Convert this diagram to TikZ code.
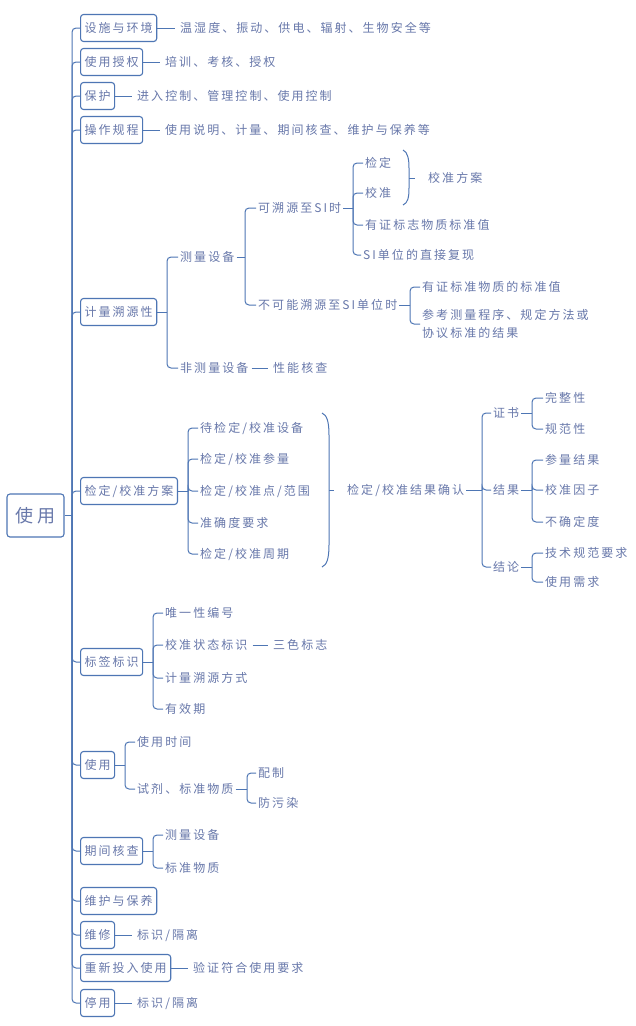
\documentclass[tikz,border=0pt]{standalone}
\usepackage{fontspec}
\setmainfont{Noto Sans CJK SC}[LetterSpace=17]
\definecolor{lc}{RGB}{78,118,180}
\definecolor{tc}{RGB}{104,120,170}
\begin{document}
\begin{tikzpicture}[x=1pt,y=-1pt,
  font=\fontsize{12}{18.5}\selectfont,
  conn/.style={draw=lc, line width=1pt},
  elb/.style={conn, rounded corners=4pt},
  box/.style={draw=lc, line width=1.1pt, rounded corners=3pt, text=tc, anchor=west,
    minimum height=27pt, inner xsep=4pt, inner ysep=0pt},
  lbl/.style={text=tc, anchor=west, inner xsep=2pt, inner ysep=1pt}]
\useasboundingbox[fill=white] (0,0) rectangle (635,1026);

% root
\node[box, anchor=center, minimum height=43pt, minimum width=57pt, inner xsep=0pt,
  font=\fontsize{18}{20}\selectfont] (root) at (35.5,515.5) {使用};
\coordinate (sp) at (72,515.5);
\draw[conn] (root.east) -- (sp);

% level 1
\node[box] (a1) at (80,28) {设施与环境};
\node[box] (a2) at (80,62) {使用授权};
\node[box] (a3) at (80,96) {保护};
\node[box] (a4) at (80,130) {操作规程};
\node[box] (a5) at (80,312) {计量溯源性};
\node[box] (a6) at (80,491) {检定/校准方案};
\node[box] (a7) at (80,662) {标签标识};
\node[box] (a8) at (80,765) {使用};
\node[box] (a9) at (80,851) {期间核查};
\node[box] (a10) at (80,901) {维护与保养};
\node[box] (a11) at (80,935) {维修};
\node[box] (a12) at (80,968) {重新投入使用};
\node[box] (a13) at (80,1003) {停用};
\foreach \i in {1,...,13} \draw[elb] (sp) |- (a\i.west);

% simple leaves
\node[lbl] (t1) at (178,28) {温湿度、振动、供电、辐射、生物安全等};
\node[lbl] (t2) at (163,62) {培训、考核、授权};
\node[lbl] (t3) at (135,96) {进入控制、管理控制、使用控制};
\node[lbl] (t4) at (163,130) {使用说明、计量、期间核查、维护与保养等};
\node[lbl] (t11) at (135,935) {标识/隔离};
\node[lbl] (t12) at (191,968) {验证符合使用要求};
\node[lbl] (t13) at (135,1003) {标识/隔离};
\foreach \i in {1,2,3,4,11,12,13} \draw[conn, shorten >=3pt] (a\i.east) -- (t\i.west);

% section 5
\node[lbl] (m1) at (178,257) {测量设备};
\node[lbl] (m2) at (178,368) {非测量设备};
\node[lbl] (m2b) at (271,368) {性能核查};
\draw[conn, shorten <=1pt, shorten >=3pt] (m2.east) -- (m2b.west);
\coordinate (b5) at (167,312);
\draw[conn] (a5.east) -- (b5);
\draw[elb] (b5) |- (m1.west);
\draw[elb] (b5) |- (m2.west);

\node[lbl] (s1) at (256,208) {可溯源至SI时};
\node[lbl] (s2) at (256,305) {不可能溯源至SI单位时};
\coordinate (b51) at (245,257);
\draw[conn] (m1.east) -- (b51);
\draw[elb] (b51) |- (s1.west);
\draw[elb] (b51) |- (s2.west);

\node[lbl] (u1) at (363,163) {检定};
\node[lbl] (u2) at (363,193) {校准};
\node[lbl] (u3) at (363,225) {有证标志物质标准值};
\node[lbl] (u4) at (361,255) {SI单位的直接复现};
\coordinate (b52) at (353,208);
\draw[conn] (s1.east) -- (b52);
\foreach \i in {1,...,4} \draw[elb] (b52) |- (u\i.west);

\draw[conn] (403,150) .. controls (408,152) and (409,160) .. (409,168) -- (409,188)
  .. controls (409,197) and (408,203) .. (403,205);
\coordinate (bb1) at (409,178);
\coordinate (bb1t) at (415,178);
\draw[conn] (bb1) -- (bb1t);
\node[lbl] (u12) at (426,178) {校准方案};

\node[lbl] (v1) at (420,287) {有证标准物质的标准值};
\node[lbl, align=left] (v2) at (420,324) {参考测量程序、规定方法或\\协议标准的结果};
\coordinate (b53) at (410,305);
\draw[conn] (s2.east) -- (b53);
\draw[elb] (b53) |- (v1.west);
\draw[elb] (b53) |- (v2.west);

% section 6
\node[lbl] (c1) at (198,428) {待检定/校准设备};
\node[lbl] (c2) at (198,459) {检定/校准参量};
\node[lbl] (c3) at (198,491) {检定/校准点/范围};
\node[lbl] (c4) at (198,523) {准确度要求};
\node[lbl] (c5) at (198,554) {检定/校准周期};
\coordinate (b6) at (188,491);
\draw[conn] (a6.east) -- (b6);
\foreach \i in {1,...,5} \draw[elb] (b6) |- (c\i.west);

\draw[conn] (322,413) .. controls (327,415) and (329,422) .. (329,435) -- (329,545)
  .. controls (329,558) and (327,565) .. (322,567);
\coordinate (bb2) at (329,490);
\coordinate (bb2t) at (334,490);
\draw[conn] (bb2) -- (bb2t);
\node[lbl] (r0) at (345,490) {检定/校准结果确认};
\coordinate (b61) at (482,490);
\draw[conn] (r0.east) -- (b61);
\node[lbl] (r1) at (491,413) {证书};
\node[lbl] (r2) at (491,490) {结果};
\node[lbl] (r3) at (491,567) {结论};
\foreach \i in {1,2,3} \draw[elb] (b61) |- (r\i.west);

\node[lbl] (q1) at (543,398) {完整性};
\node[lbl] (q2) at (543,429) {规范性};
\coordinate (b62) at (532,413);
\draw[conn] (r1.east) -- (b62);
\draw[elb] (b62) |- (q1.west);
\draw[elb] (b62) |- (q2.west);

\node[lbl] (q3) at (543,460) {参量结果};
\node[lbl] (q4) at (543,490) {校准因子};
\node[lbl] (q5) at (543,522) {不确定度};
\coordinate (b63) at (532,490);
\draw[conn] (r2.east) -- (b63);
\foreach \i in {3,4,5} \draw[elb] (b63) |- (q\i.west);

\node[lbl] (q6) at (543,553) {技术规范要求};
\node[lbl] (q7) at (543,582) {使用需求};
\coordinate (b64) at (532,567);
\draw[conn] (r3.east) -- (b64);
\draw[elb] (b64) |- (q6.west);
\draw[elb] (b64) |- (q7.west);

% section 7
\node[lbl] (l1) at (163,613) {唯一性编号};
\node[lbl] (l2) at (163,645) {校准状态标识};
\node[lbl] (l2b) at (271,645) {三色标志};
\node[lbl] (l3) at (163,678) {计量溯源方式};
\node[lbl] (l4) at (163,709) {有效期};
\draw[conn, shorten <=3pt, shorten >=3pt] (l2.east) -- (l2b.west);
\coordinate (b7) at (153,662);
\draw[conn] (a7.east) -- (b7);
\foreach \i in {1,...,4} \draw[elb] (b7) |- (l\i.west);

% section 8
\node[lbl] (k1) at (135,742) {使用时间};
\node[lbl] (k2) at (135,789) {试剂、标准物质};
\coordinate (b8) at (125,765);
\draw[conn] (a8.east) -- (b8);
\draw[elb] (b8) |- (k1.west);
\draw[elb] (b8) |- (k2.west);
\node[lbl] (k3) at (256,773) {配制};
\node[lbl] (k4) at (256,803) {防污染};
\coordinate (b81) at (247,789);
\draw[conn] (k2.east) -- (b81);
\draw[elb] (b81) |- (k3.west);
\draw[elb] (b81) |- (k4.west);

% section 9
\node[lbl] (p1) at (163,835) {测量设备};
\node[lbl] (p2) at (163,868) {标准物质};
\coordinate (b9) at (153,851);
\draw[conn] (a9.east) -- (b9);
\draw[elb] (b9) |- (p1.west);
\draw[elb] (b9) |- (p2.west);
\end{tikzpicture}
\end{document}
